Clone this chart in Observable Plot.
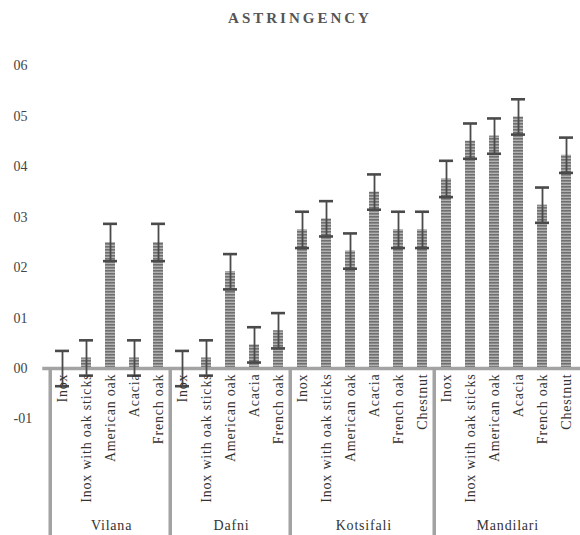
<!DOCTYPE html>
<html><head><meta charset="utf-8">
<script src="https://cdn.jsdelivr.net/npm/d3@7"></script>
<script src="https://cdn.jsdelivr.net/npm/@observablehq/plot@0.6"></script>
<style>
html,body{margin:0;padding:0;overflow:hidden;background:#fff;width:580px;height:535px}
#title{height:36px;line-height:36px;width:600px;text-align:center;font-family:"Liberation Serif",serif;font-weight:bold;font-size:15px;letter-spacing:3px;color:#555}
#chart svg{display:block;overflow:visible;max-width:none !important}
#chart svg text{font-family:"Liberation Serif",serif !important}
</style></head><body>
<div id="title">ASTRINGENCY</div>
<div id="chart"></div>
<script>
// ---- data ----
const groups = ["Vilana", "Dafni", "Kotsifali", "Mandilari"];
const treatments5 = ["Inox", "Inox with oak sticks", "American oak", "Acacia", "French oak"];
const treatments6 = ["Inox", "Inox with oak sticks", "American oak", "Acacia", "French oak", "Chestnut"];
const groupTreatments = [treatments5, treatments5, treatments6, treatments6];
const vilana    = [0.000, 0.021, 0.250, 0.021, 0.250];
const dafni     = [0.000, 0.021, 0.192, 0.047, 0.075];
const kotsifali = [0.275, 0.297, 0.233, 0.350, 0.275, 0.275];
const mandilari = [0.376, 0.451, 0.461, 0.499, 0.324, 0.423];
const vilanaErr    = [0.035, 0.035, 0.037, 0.035, 0.037];
const dafniErr     = [0.035, 0.035, 0.035, 0.035, 0.035];
const kotsifaliErr = [0.036, 0.035, 0.035, 0.035, 0.036, 0.036];
const mandilariErr = [0.036, 0.035, 0.035, 0.035, 0.035, 0.035];
const groupValues = [vilana, dafni, kotsifali, mandilari];
const groupErrors = [vilanaErr, dafniErr, kotsifaliErr, mandilariErr];
const yTicks = [0.6, 0.5, 0.4, 0.3, 0.2, 0.1, 0.0, -0.1];
const yTickLabels = ["06", "05", "04", "03", "02", "01", "00", "-01"];

const data = [];
groups.forEach((g, gi) => groupTreatments[gi].forEach((t, ti) => data.push({
  group: g, treatment: t, key: g + "|" + t,
  value: groupValues[gi][ti], err: groupErrors[gi][ti]
})));
const keys = data.map(d => d.key);

// ---- layout ----
const W = 580, H = 499;
const X0 = 44, X1 = 583.4;
const Y_TOP = 29.5, Y_BOT = 382.5;
const yDomain = [-0.1, 0.6];
const step = (X1 - X0) / keys.length;
const yFloor = d3.scaleLinear().domain(yDomain).range([Y_BOT, Y_TOP]).invert(H + 2);

const FONT = "Liberation Serif";
const FRAME = "#a3a3a3";
const INK = "#4a4a4a";

const groupMarks = groups.map((g, gi) => {
  const first = data.find(d => d.group === g);
  const n = groupTreatments[gi].length;
  return Plot.text([first], {
    x: "key", text: d => d.group, frameAnchor: "bottom", lineAnchor: "bottom",
    dx: (n - 1) * step / 2, dy: -6, fontSize: 14, fontFamily: FONT, fill: "#333"
  });
});
const firstKeys = groups.map(g => data.find(d => d.group === g));

const svg = Plot.plot({
  width: W, height: H,
  marginLeft: X0, marginRight: 0, marginTop: 0, marginBottom: 0,
  style: {fontFamily: FONT, background: "transparent", overflow: "visible", maxWidth: "none"},
  x: {type: "band", domain: keys, range: [X0, X1], paddingInner: 0.59, paddingOuter: 0.295, axis: null},
  y: {domain: yDomain, range: [Y_BOT, Y_TOP], axis: null},
  marks: [
    Plot.barY(data, {x: "key", y: "value", fill: "url(#stripes)"}),
    Plot.ruleY([0], {stroke: FRAME, strokeWidth: 3.5, strokeLinecap: "square"}),
    Plot.ruleX(firstKeys, {x: "key", y1: () => 0, y2: () => yFloor, dx: -step / 2, stroke: FRAME, strokeWidth: 3.5}),
    Plot.ruleX(data, {x: "key", y1: d => d.value - d.err, y2: d => d.value + d.err, stroke: INK, strokeWidth: 1.8}),
    Plot.tickY(data, {x: "key", y: d => d.value + d.err, stroke: INK, strokeWidth: 2.6, insetLeft: -2, insetRight: -2}),
    Plot.tickY(data, {x: "key", y: d => d.value - d.err, stroke: INK, strokeWidth: 2.6, insetLeft: -2, insetRight: -2}),
    Plot.text(data, {x: "key", y: () => 0, text: "treatment", rotate: -90, textAnchor: "end", dy: 5,
      fontSize: 14, fontFamily: FONT, fill: "#333"}),
    ...groupMarks,
    Plot.text(yTicks, {y: d => d, text: (d, i) => yTickLabels[i], frameAnchor: "left", textAnchor: "start",
      dx: 13 - X0, fontSize: 14, fontFamily: FONT, fill: "#444"})
  ]
});

d3.select(svg).insert("defs", ":first-child").html(
  '<pattern id="stripes" patternUnits="userSpaceOnUse" width="6" height="3">' +
  '<rect width="6" height="3" fill="#b2b2b2"></rect>' +
  '<rect width="6" height="1.6" fill="#707070"></rect></pattern>'
);
svg.querySelectorAll("text").forEach(t => { if (t.getAttribute("transform") && t.getAttribute("transform").includes("rotate")) t.style.letterSpacing = "0.8px"; });
svg.querySelectorAll("g[aria-label='text'] text").forEach(t => { if (/^(Vilana|Dafni|Kotsifali|Mandilari)$/.test(t.textContent)) t.style.letterSpacing = "0.8px"; });
document.getElementById("chart").appendChild(svg);
</script>
</body></html>
